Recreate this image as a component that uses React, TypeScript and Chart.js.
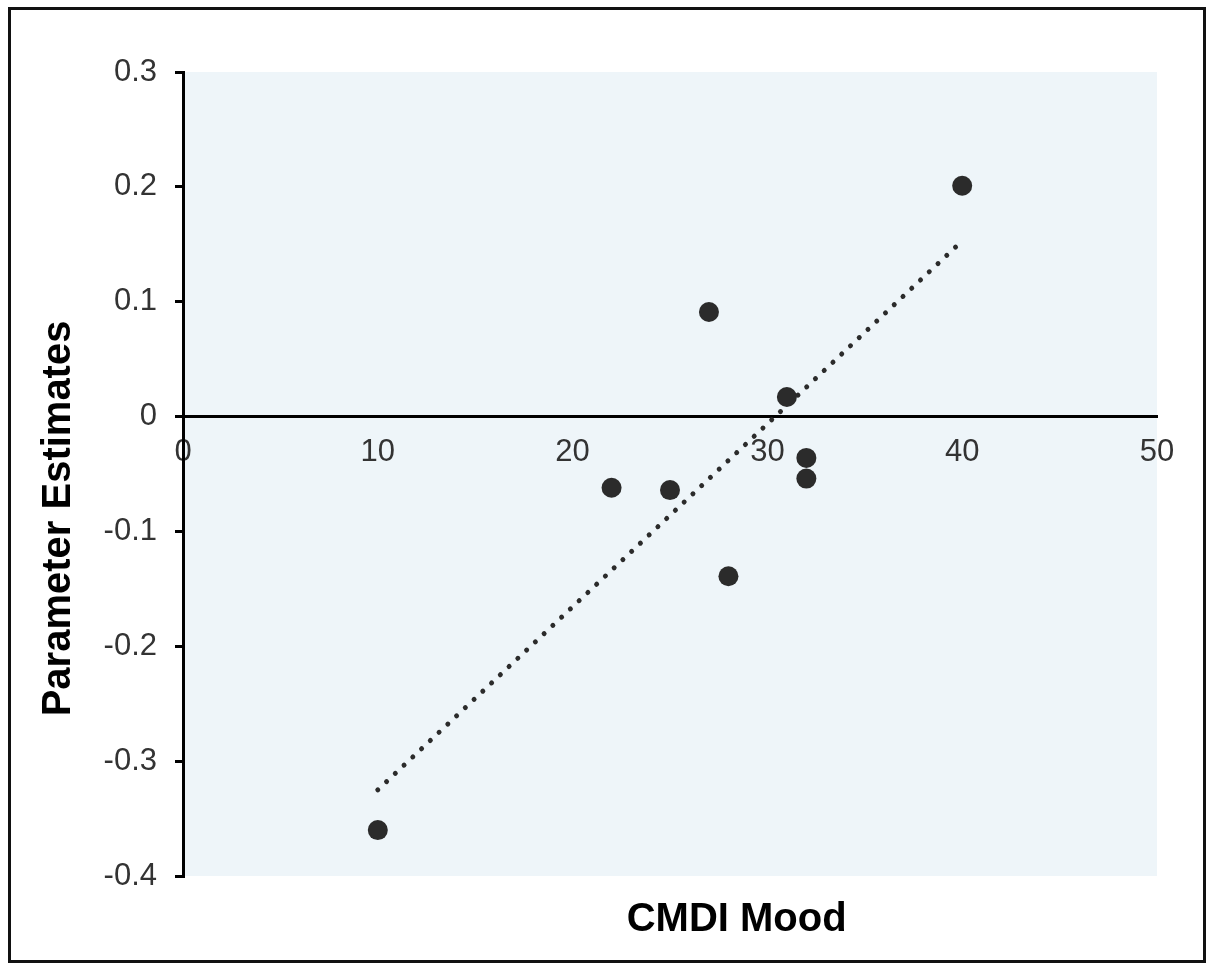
import React, { useEffect, useRef } from "react";
import { Chart, registerables } from "chart.js";

Chart.register(...registerables);

// ---- data ----
const moodScores = [10, 22, 25, 27, 28, 31, 32, 32, 40];
const parameterEstimates = [-0.36, -0.062, -0.064, 0.091, -0.139, 0.017, -0.036, -0.054, 0.201];
const trendX = [10, 40];
const trendY = [-0.325, 0.153];
const xTickValues = [0, 10, 20, 30, 40, 50];
const yTickValues = [-0.4, -0.3, -0.2, -0.1, 0, 0.1, 0.2, 0.3];
const xTitle = "CMDI Mood";
const yTitle = "Parameter Estimates";

const W = 1206;
const H = 963;
const FONT = "'Liberation Sans', Arial, Helvetica, sans-serif";

const plotBackground = {
  id: "plotBackground",
  beforeDraw(chart: any) {
    const { ctx, chartArea } = chart;
    ctx.save();
    ctx.fillStyle = "#eef5f9";
    ctx.fillRect(chartArea.left, chartArea.top, chartArea.right - chartArea.left, chartArea.bottom - chartArea.top);
    ctx.restore();
  },
};

export default function App() {
  const canvasRef = useRef<HTMLCanvasElement | null>(null);

  useEffect(() => {
    if (!canvasRef.current) return;
    const points = moodScores.map((x, i) => ({ x, y: parameterEstimates[i] }));
    const trend = trendX.map((x, i) => ({ x, y: trendY[i] }));

    const chart = new Chart(canvasRef.current, {
      type: "scatter",
      data: {
        datasets: [
          {
            label: "Estimates",
            data: points,
            pointRadius: 10,
            pointHoverRadius: 10,
            pointBackgroundColor: "#2b2b2b",
            pointBorderColor: "#2b2b2b",
            pointBorderWidth: 0,
            showLine: false,
          },
          {
            label: "Trend",
            data: trend,
            showLine: true,
            pointRadius: 0,
            borderColor: "#2b2b2b",
            borderWidth: 5,
            borderDash: [0.01, 12],
            borderCapStyle: "round",
            fill: false,
          },
        ],
      },
      options: {
        responsive: false,
        animation: false,
        devicePixelRatio: 1,
        layout: { padding: { left: 0, right: 49, top: 72, bottom: 0 } },
        plugins: {
          legend: { display: false },
          tooltip: { enabled: false },
        },
        scales: {
          x: {
            type: "linear",
            position: { y: 0 } as any,
            min: xTickValues[0],
            max: xTickValues[xTickValues.length - 1],
            afterBuildTicks: (scale: any) => {
              scale.ticks = xTickValues.map((v) => ({ value: v }));
            },
            ticks: {
              color: "#333",
              font: { family: FONT, size: 31 },
              padding: 17,
              maxRotation: 0,
              autoSkip: false,
              callback: (v: any) => String(v),
            },
            grid: { display: false, drawTicks: false },
            border: { display: true, color: "#000", width: 3 },
          },
          x2: {
            type: "linear",
            position: "bottom",
            axis: "x",
            display: true,
            afterFit: (scale: any) => {
              scale.height = 87;
            },
            ticks: { display: false },
            grid: { display: false, drawTicks: false },
            border: { display: false },
            title: {
              display: true,
              text: "\u00a0".repeat(12) + xTitle,
              color: "#000",
              font: { family: FONT, size: 40, weight: "bold", lineHeight: 1 },
              padding: { top: 0, bottom: 23 },
            },
          },
          y: {
            type: "linear",
            position: "left",
            min: yTickValues[0],
            max: yTickValues[yTickValues.length - 1],
            afterBuildTicks: (scale: any) => {
              scale.ticks = yTickValues.map((v) => ({ value: v }));
            },
            afterFit: (scale: any) => {
              scale.width = 183;
            },
            ticks: {
              color: "#333",
              font: { family: FONT, size: 31 },
              padding: 18,
              autoSkip: false,
              callback: (v: any) => String(Number(Number(v).toFixed(1))),
            },
            grid: {
              display: true,
              drawOnChartArea: false,
              drawTicks: true,
              tickLength: 8,
              color: "#000",
              lineWidth: 3,
            },
            border: { display: true, color: "#000", width: 3 },
            title: {
              display: true,
              text: yTitle + "\u00a0".repeat(8),
              color: "#000",
              font: { family: FONT, size: 40, weight: "bold", lineHeight: 1 },
              padding: { top: 39, bottom: 0 },
            },
          },
        },
      },
      plugins: [plotBackground],
    } as any);

    return () => chart.destroy();
  }, []);

  return (
    <div style={{ position: "fixed", left: 0, top: 0, width: W, height: H, background: "#fff" }}>
      <canvas ref={canvasRef} width={W} height={H} style={{ position: "absolute", left: 0, top: 0, width: W, height: H }} />
      <div
        style={{
          position: "absolute",
          left: 8,
          top: 7,
          width: W - 8,
          height: H - 7,
          boxSizing: "border-box",
          border: "3px solid #111",
          pointerEvents: "none",
        }}
      />
    </div>
  );
}
